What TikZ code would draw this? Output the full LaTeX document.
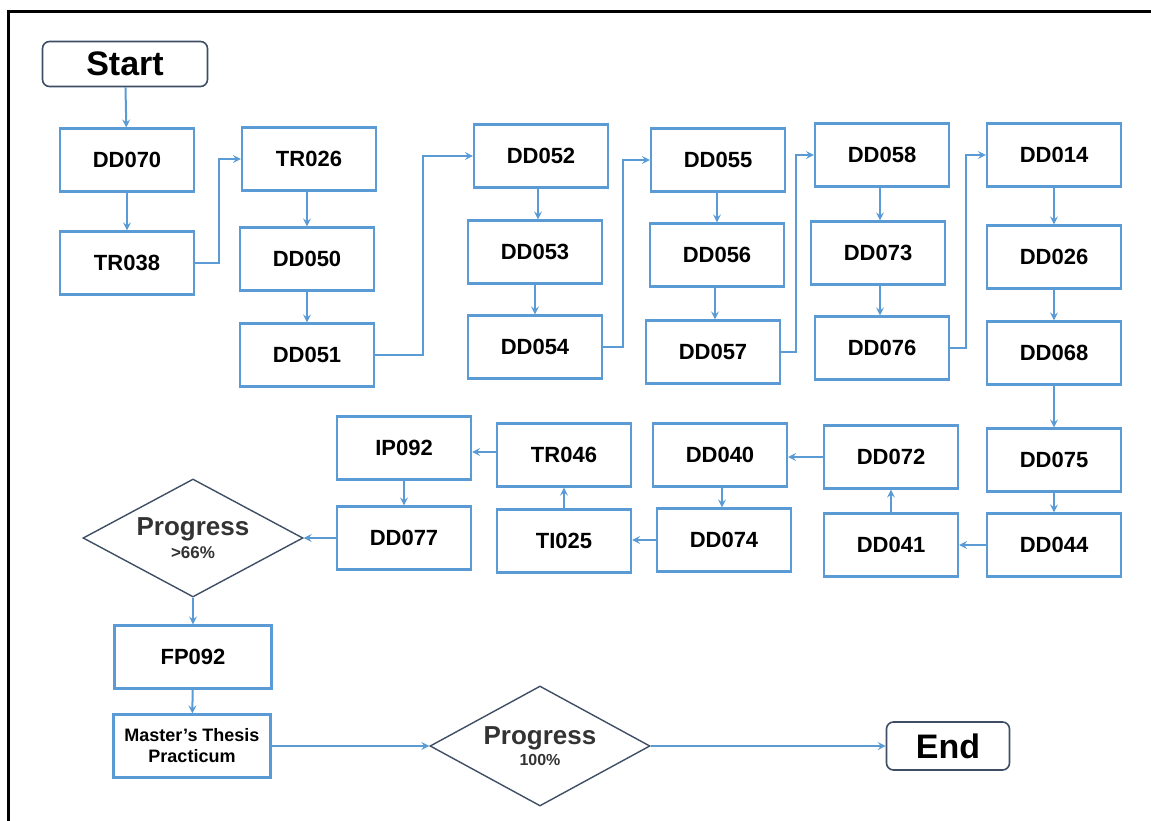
\documentclass[tikz,border=0pt]{standalone}
\usepackage{fontspec}
\setmainfont{Liberation Sans}
\usepackage{tikz}
\usetikzlibrary{arrows.meta, shapes.geometric, positioning}
\definecolor{FlowBlau}{RGB}{91,155,213}
\definecolor{FlowGrau}{RGB}{62,78,100}

\begin{document}
\begin{tikzpicture}[x=1pt, y=-1pt,
    course/.style={shape=rectangle, draw=FlowBlau, line width=2.2pt, fill=white,
                   minimum width=134pt, minimum height=63pt, inner sep=0pt,
                   font=\fontsize{22}{24}\selectfont\bfseries},
    terminal/.style={shape=rectangle, rounded corners=7pt, draw=FlowGrau, line width=1.6pt,
                     inner sep=0pt, font=\fontsize{34}{36}\selectfont\bfseries},
    check/.style={shape=diamond, draw=FlowGrau, line width=1.4pt, aspect=1.86,
                  inner sep=0pt, align=center, text=black!80},
    flow/.style={draw=FlowBlau, line width=2pt, -{Stealth[length=8pt, width=8pt, inset=3pt]}}]
    \useasboundingbox (0,0) rectangle (1151,821);
    \draw[line width=3pt] (8.5,821) -- (8.5,11.5) -- (1151,11.5);

    % first block of courses
    \node[terminal, minimum width=165pt, minimum height=45pt] (start) at (125, 64) {Start};
    \node[course] (dd070) at (127,160) {DD070};
    \node[course] (tr038) at (127,263) {TR038};
    \node[course] (tr026) at (309,159) {TR026};
    \node[course] (dd050) at (307,259) {DD050};
    \node[course] (dd051) at (307,355) {DD051};
    \node[course] (dd052) at (541,156) {DD052};
    \node[course] (dd053) at (535,252) {DD053};
    \node[course] (dd054) at (535,347) {DD054};
    \node[course] (dd055) at (718,160) {DD055};
    \node[course] (dd056) at (717,255) {DD056};
    \node[course] (dd057) at (713,352) {DD057};
    \node[course] (dd058) at (882,155) {DD058};
    \node[course] (dd073) at (878,253) {DD073};
    \node[course] (dd076) at (882,348) {DD076};
    \node[course] (dd014) at (1054,155) {DD014};
    \node[course] (dd026) at (1054,257) {DD026};
    \node[course] (dd068) at (1054,353) {DD068};

    % second block, running back to the left
    \node[course] (dd075) at (1054,460) {DD075};
    \node[course] (dd044) at (1054,545) {DD044};
    \node[course] (dd041) at (891,545) {DD041};
    \node[course] (dd072) at (891,457) {DD072};
    \node[course] (dd040) at (720,455) {DD040};
    \node[course] (dd074) at (724,540) {DD074};
    \node[course] (ti025) at (564,541) {TI025};
    \node[course] (tr046) at (564,455) {TR046};
    \node[course] (ip092) at (404,448) {IP092};
    \node[course] (dd077) at (404,538) {DD077};

    % checkpoints and end
    \node[check, minimum width=220pt, minimum height=118pt] (prog66) at (193,538)
        {\fontsize{26}{28}\selectfont\bfseries Progress\\[4pt] \fontsize{17}{18}\selectfont\bfseries >66\%};
    \node[course, minimum width=157pt] (fp092) at (193,657) {FP092};
    \node[course, minimum width=157pt, align=center, font=\fontsize{18}{21}\selectfont\bfseries] (thesis) at (192,746)
        {Master\char39 s Thesis\\Practicum};
    \node[check, minimum width=220pt, minimum height=120pt] (prog100) at (540,746)
        {\fontsize{26}{28}\selectfont\bfseries Progress\\[4pt] \fontsize{16}{18}\selectfont\bfseries 100\%};
    \node[terminal, minimum width=123pt, minimum height=48pt] (end) at (948,746) {End};

    \path[flow] (start) edge (dd070)
                (dd070) edge (tr038)
                (dd050) edge (dd051)
                (dd053) edge (dd054)
                (dd014) edge (dd026)
                (dd026) edge (dd068)
                (dd068) edge (dd075)
                (dd075) edge (dd044)
                (dd044) edge (dd041)
                (dd041) edge (dd072)
                (dd072) edge (dd072 -| dd040.east)
                (dd074) edge (dd074 -| ti025.east)
                (ti025) edge (tr046)
                (ip092) edge (dd077)
                (dd077) edge (prog66)
                (prog66) edge (fp092)
                (fp092) edge (thesis)
                (thesis) edge (prog100)
                (prog100) edge (end);
    \draw[flow] ([xshift=-2pt]tr026.south) -- ([xshift=-2pt]tr026.south |- dd050.north);
    \draw[flow] ([xshift=-3pt]dd052.south) -- ([xshift=-3pt]dd052.south |- dd053.north);
    \draw[flow] ([xshift=-1pt]dd055.south) -- ([xshift=-1pt]dd055.south |- dd056.north);
    \draw[flow] ([xshift=-2pt]dd056.south) -- ([xshift=-2pt]dd056.south |- dd057.north);
    \draw[flow] ([xshift=-2pt]dd058.south) -- ([xshift=-2pt]dd058.south |- dd073.north);
    \draw[flow] ([xshift=2pt]dd073.south) -- ([xshift=2pt]dd073.south |- dd076.north);
    \draw[flow] ([xshift=2pt]dd040.south) -- ([xshift=2pt]dd040.south |- dd074.north);
    \draw[flow] ([yshift=3pt]tr046.west) -- ([yshift=3pt]tr046.west -| ip092.east);

    % jumps between columns
    \draw[flow] (tr038.east) -- ++(24,0) |- (tr026.west);
    \draw[flow] (dd051.east) -- ++(48,0) |- (dd052.west);
    \draw[flow] (dd054.east) -- ++(20,0) |- (dd055.west);
    \draw[flow] (dd057.east) -- ++(15,0) |- (dd058.west);
    \draw[flow] (dd076.east) -- ++(16,0) |- (dd014.west);
\end{tikzpicture}
\end{document}
